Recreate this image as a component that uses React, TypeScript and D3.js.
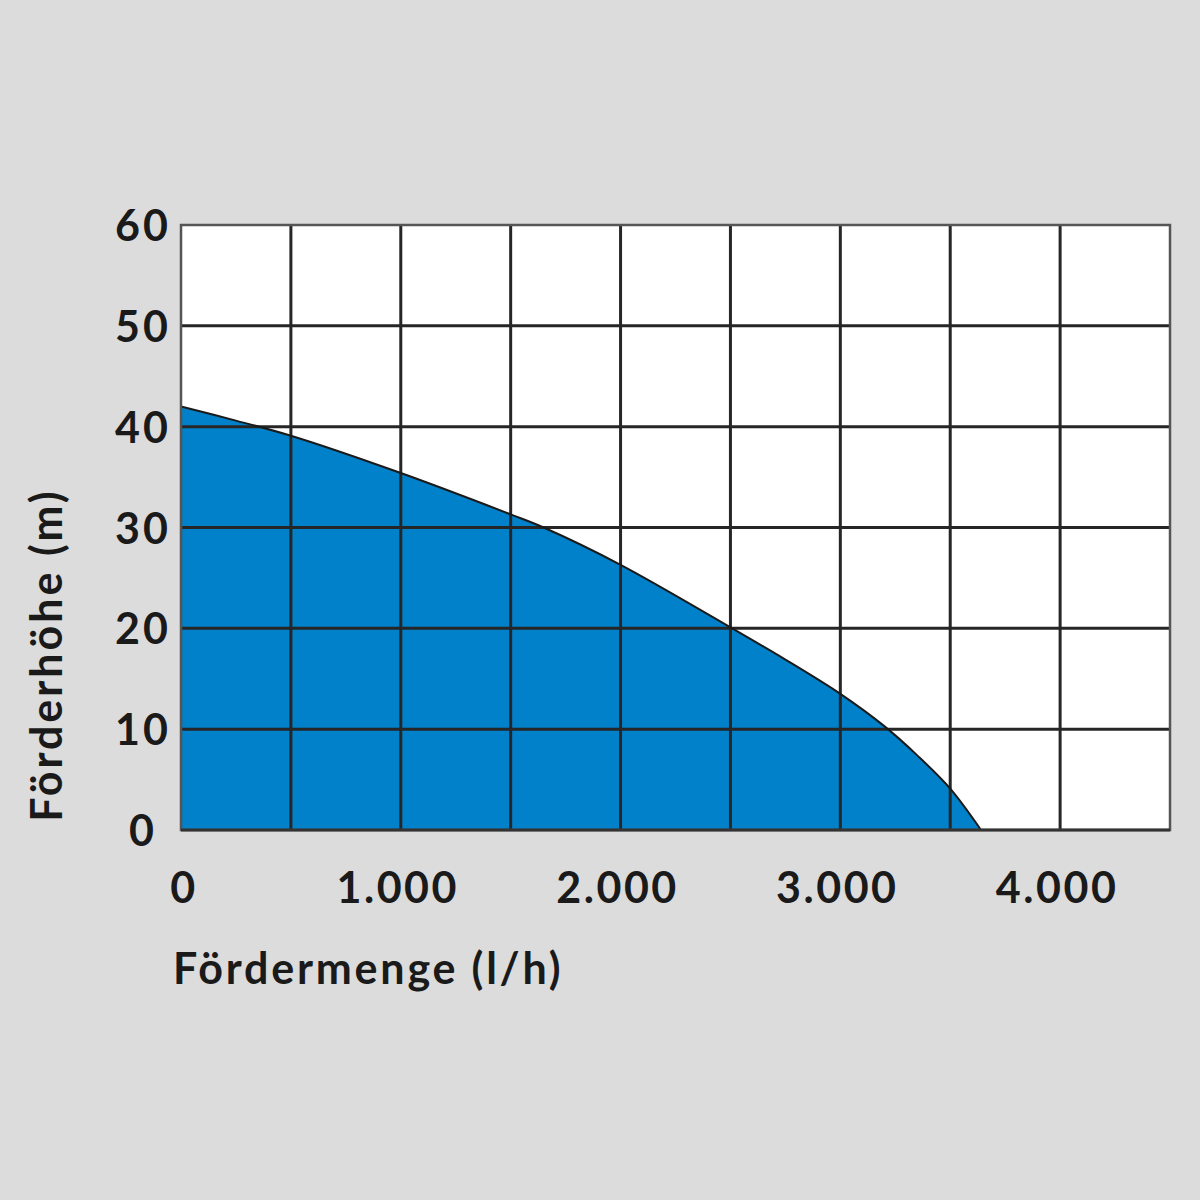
import React from "react";
import * as d3 from "d3";

const flow = [0, 250, 500, 1000, 1500, 1650, 2000, 2500, 2750, 3000, 3200, 3350, 3500, 3640];
const head = [42, 40.6, 39.1, 35.4, 31.3, 30, 26.3, 20.1, 16.9, 13.5, 10.3, 7.4, 4.1, 0];
const xTicks = [0, 500, 1000, 1500, 2000, 2500, 3000, 3500, 4000, 4500];
const xLabels = [0, 1000, 2000, 3000, 4000];
const yTicks = [0, 10, 20, 30, 40, 50, 60];

export default function App() {
  const W = 1200, H = 1200;
  const L = 181, R = 1170, T = 225, B = 830;
  const x = d3.scaleLinear().domain([0, 4500]).range([L, R]);
  const y = d3.scaleLinear().domain([0, 60]).range([B, T]);
  const pts: [number, number][] = flow.map((f, i) => [f, head[i]]);
  const curve = d3.curveCatmullRom.alpha(0.5);
  const area = d3.area<[number, number]>().x(d => x(d[0])).y0(y(0)).y1(d => y(d[1])).curve(curve);
  const line = d3.line<[number, number]>().x(d => x(d[0])).y(d => y(d[1])).curve(curve);
  const fmt = (v: number) => (v === 0 ? "0" : d3.format(",")(v).replace(/,/g, "."));
  const font = "Lato, 'Open Sans', sans-serif";
  return (
    <svg width={W} height={H} style={{ position: "absolute", left: 0, top: 0 }}>
      <rect width={W} height={H} fill="#dcdcdc" />
      <rect x={L} y={T} width={R - L} height={B - T} fill="#ffffff" />
      <path d={area(pts) || ""} fill="#0081c9" />
      {xTicks.slice(1, -1).map(t => (
        <line key={"vx" + t} x1={x(t)} x2={x(t)} y1={T} y2={B} stroke="#262626" strokeWidth={3} />
      ))}
      {yTicks.slice(1, -1).map(t => (
        <line key={"hy" + t} x1={L} x2={R} y1={y(t)} y2={y(t)} stroke="#262626" strokeWidth={3} />
      ))}
      <path d={line(pts) || ""} fill="none" stroke="#1a1a1a" strokeWidth={2} />
      <rect x={L} y={T} width={R - L} height={B - T} fill="none" stroke="#555" strokeWidth={2.5} />
      <line x1={L} x2={R} y1={B} y2={B} stroke="#333" strokeWidth={3} />
      {yTicks.map(t => (
        <text key={"yl" + t} x={143} y={y(t) + 16} textAnchor="middle" fontFamily={font} fontWeight={700} fontSize={43} letterSpacing={3} fill="#1a1a1a">{t}</text>
      ))}
      {xLabels.map(t => (
        <text key={"xl" + t} x={t === 0 ? x(t) + 3 : x(t) - 3} y={903} textAnchor="middle" fontFamily={font} fontWeight={700} fontSize={43} letterSpacing={2.5} fill="#1a1a1a">{fmt(t)}</text>
      ))}
      <text x={173} y={984} fontFamily={font} fontWeight={700} fontSize={43} letterSpacing={2.8} fill="#1a1a1a">Fördermenge (l/h)</text>
      <text transform={`translate(62,655) rotate(-90)`} textAnchor="middle" fontFamily={font} fontWeight={700} fontSize={43} letterSpacing={3} fill="#1a1a1a">Förderhöhe (m)</text>
    </svg>
  );
}
